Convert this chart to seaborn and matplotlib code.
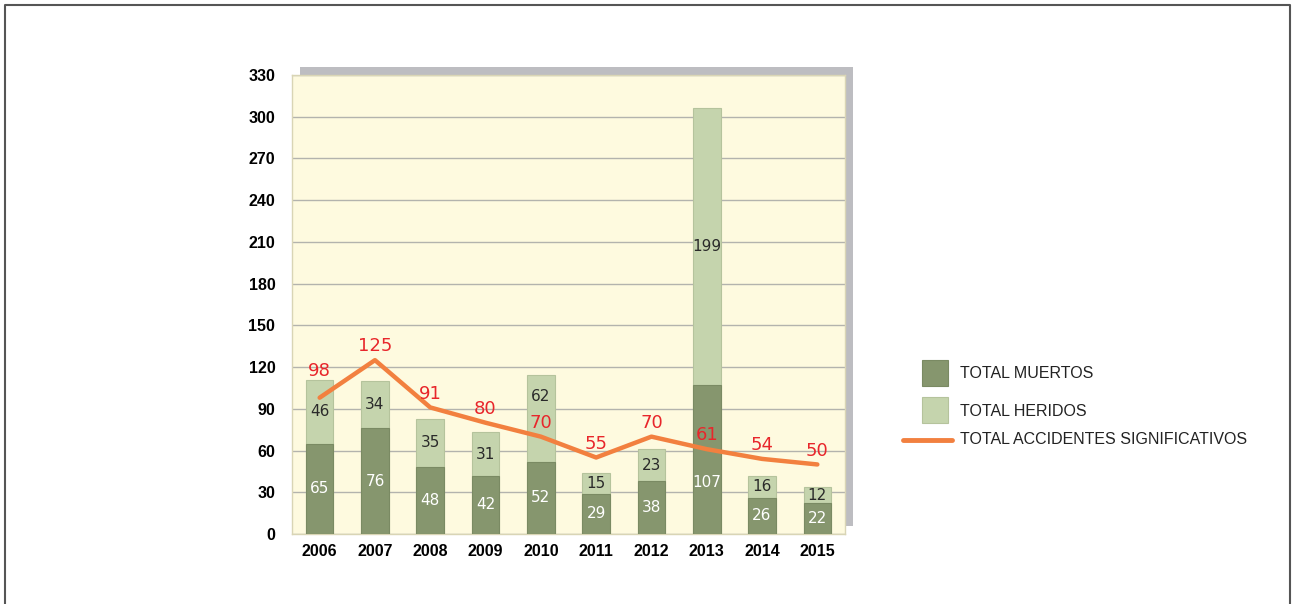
import numpy as np
import pandas as pd
import seaborn as sns
import matplotlib.pyplot as plt
from matplotlib import font_manager
from matplotlib.lines import Line2D
from matplotlib.patches import Rectangle

years = ["2006", "2007", "2008", "2009", "2010", "2011", "2012", "2013", "2014", "2015"]
muertos = [65, 76, 48, 42, 52, 29, 38, 107, 26, 22]
heridos = [46, 34, 35, 31, 62, 15, 23, 199, 16, 12]
accidentes = [98, 125, 91, 80, 70, 55, 70, 61, 54, 50]

df = pd.DataFrame({"year": years, "muertos": muertos, "heridos": heridos,
                   "accidentes": accidentes})
df["total"] = df["muertos"] + df["heridos"]

sns.set_style("white")
plt.rcParams["font.family"] = ["Liberation Sans", "DejaVu Sans"]

# look for a condensed face for the value labels
narrow = None
for f in font_manager.fontManager.ttflist:
    if ("Narrow" in f.name or "Condensed" in f.name or f.stretch in ("condensed", "semi-condensed")) \
            and f.weight in (400, "normal", "regular") and f.style == "normal":
        narrow = f.name
        break
num_font = [narrow, "Liberation Sans"] if narrow else ["Liberation Sans"]

dark = "#86966e"
light = "#c5d4ad"
orange = "#f2803f"

fig = plt.figure(figsize=(12.92, 6.04), dpi=100)
W, H = 1292, 604

# frame around the figure (left, top, right)
fig.add_artist(Line2D([5 / W, 5 / W, 1290 / W, 1290 / W], [0, 1 - 5 / H, 1 - 5 / H, 0],
                      color="#555555", lw=1.5))

# grey shadow behind plot area
fig.add_artist(Rectangle((300 / W, (H - 526) / H), 553 / W, 459 / H,
                         facecolor="#bdbdc1", edgecolor="none", zorder=0))

ax = fig.add_axes([292 / W, (H - 534) / H, 553 / W, 459 / H], zorder=1)
ax.set_facecolor("#fefadf")

sns.barplot(data=df, x="year", y="total", color=light, width=0.5,
            edgecolor="#b5c39c", linewidth=0.8, saturation=1, ax=ax, zorder=2)
sns.barplot(data=df, x="year", y="muertos", color=dark, width=0.5,
            edgecolor="#7a8a63", linewidth=0.8, saturation=1, ax=ax, zorder=3)
sns.lineplot(data=df, x="year", y="accidentes", color=orange, lw=3.2, sort=False,
             ax=ax, zorder=4)

for i in range(len(years)):
    m, h, a = muertos[i], heridos[i], accidentes[i]
    y_m = m / 2
    if abs(y_m - a) < 12:          # keep clear of the line
        y_m = a - 24
    y_h = m + h / 2
    if abs(y_h - (a + 9)) < 10:    # keep clear of the red label
        y_h = (y_h + m + h) / 2
    y_a = a + 10
    if abs(y_a - (m + h)) < 6:     # lift the red label over the bar top
        y_a = m + h + 6
    ax.text(i, y_m, str(m), ha="center", va="center",
            color="white", fontsize=11, family=num_font, zorder=5)
    ax.text(i, y_h, str(h), ha="center", va="center",
            color="#2a2a2a", fontsize=11, family=num_font, zorder=5)
    ax.text(i, y_a, str(a), ha="center", va="center",
            color="#e8262b", fontsize=13, family=num_font, zorder=6)

ax.set_ylim(0, 330)
ax.set_xlim(-0.5, 9.5)
ax.set_yticks(np.arange(0, 331, 30))
ax.grid(axis="y", color="#b3b3ad", lw=1, zorder=1)
ax.set_axisbelow(True)
for s in ax.spines.values():
    s.set_color("#d9d5b5")
    s.set_linewidth(1)
ax.tick_params(axis="both", length=0, labelsize=11.5)
ax.tick_params(axis="y", pad=12)
ax.tick_params(axis="x", pad=7)
for lab in ax.get_xticklabels() + ax.get_yticklabels():
    lab.set_fontweight("bold")
    lab.set_color("#000000")
ax.set_xlabel("")
ax.set_ylabel("")

# legend, drawn by hand to match the spacing of the original
legend_items = ["TOTAL MUERTOS", "TOTAL HERIDOS", "TOTAL ACCIDENTES SIGNIFICATIVOS"]
fig.add_artist(Rectangle((922 / W, 1 - 386 / H), 26 / W, 26 / H,
                         facecolor=dark, edgecolor="#7a8a63", lw=0.8))
fig.add_artist(Rectangle((922 / W, 1 - 423 / H), 26 / W, 26 / H,
                         facecolor=light, edgecolor="#b5c39c", lw=0.8))
fig.add_artist(Line2D([903 / W, 952 / W], [1 - 440 / H, 1 - 440 / H],
                      color=orange, lw=3.5, solid_capstyle="round"))
for label, ypx in zip(legend_items, [374, 411, 440]):
    fig.text(960 / W, 1 - ypx / H, label, ha="left", va="center",
             fontsize=11.5, color="#222222")

fig.savefig("out.png", dpi=100)
